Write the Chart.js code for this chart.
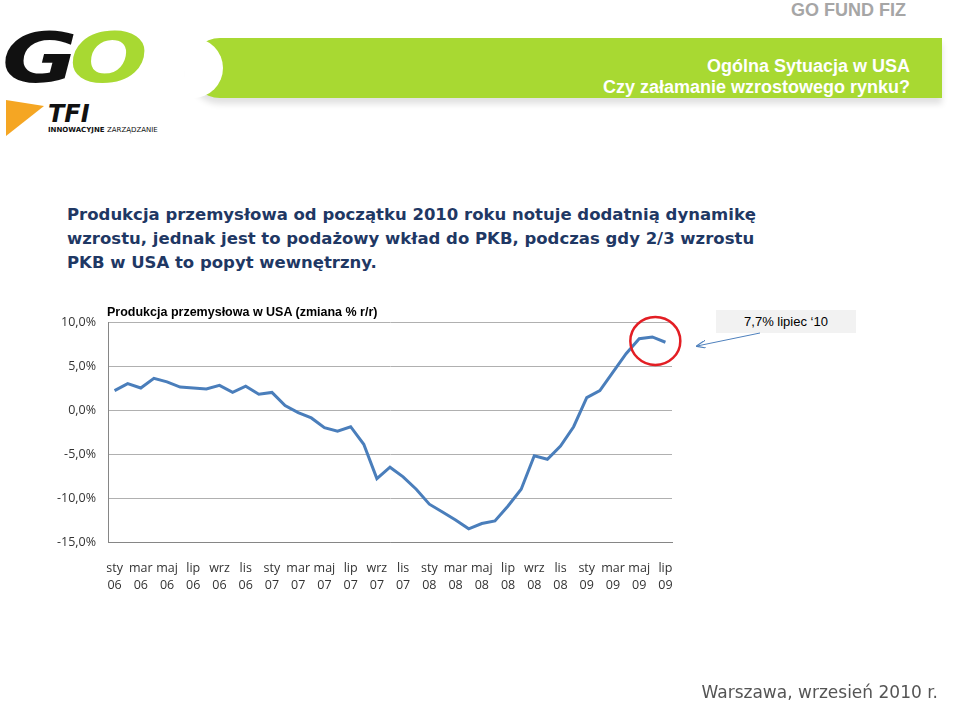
<!DOCTYPE html>
<html><head><meta charset="utf-8">
<script src="https://cdn.jsdelivr.net/npm/chart.js@4/dist/chart.umd.min.js"></script>
<style>
body{margin:0;width:960px;height:701px;background:#fff;position:relative;overflow:hidden;font-family:"Liberation Sans",Arial,sans-serif}
.abs{position:absolute}
#fund{right:54px;top:0;color:#a6a6a6;font-weight:bold;font-size:18px}
#banner{left:190px;top:38px;width:752px;height:60px;background:#a8d932;border-radius:30px 0 0 30px;box-shadow:0 6px 6px rgba(0,0,0,.12)}
#banner2{left:185px;top:38px;width:38px;height:60px;background:#fff;border-radius:0 30px 30px 0}
#btxt{right:50px;top:56px;color:#fff;font-weight:bold;font-size:18px;text-align:right;line-height:21px}
#head{left:67px;top:203px;font-family:"DejaVu Sans",sans-serif;font-weight:bold;font-size:16.5px;color:#1f3864;line-height:24px}
#title{left:107px;top:305px;font-weight:bold;font-size:12.5px;color:#000}
#call{left:716px;top:310px;width:140px;height:23px;background:#f2f2f2;font-size:13px;line-height:23px;text-align:center;color:#000}
#foot{right:22px;top:682px;font-family:"DejaVu Sans",sans-serif;font-size:17px;color:#555}
</style></head><body>
<div id="fund" class="abs">GO FUND FIZ</div>
<div id="banner" class="abs"></div><div id="banner2" class="abs"></div>
<div id="btxt" class="abs">Ogólna Sytuacja w USA<br>Czy załamanie wzrostowego rynku?</div>
<div class="abs" style="left:2px;top:18px;font:italic 900 92px 'DejaVu Sans',sans-serif;letter-spacing:-8px;transform:scaleY(0.75);transform-origin:top left"><span style="color:#111">G</span><span style="color:#a8d932">O</span></div>
<div class="abs" style="left:6px;top:100px;width:0;height:0;border-left:38px solid #f5a623;border-top:6px solid transparent;border-bottom:30px solid transparent"></div>
<div class="abs" style="left:48px;top:100px;font:italic 900 24px 'DejaVu Sans',sans-serif;color:#111">TFI</div>
<div class="abs" style="left:48px;top:126px;font:bold 7px 'DejaVu Sans',sans-serif;color:#111">INNOWACYJNE <span style="font-weight:normal">ZARZĄDZANIE</span></div>
<div id="head" class="abs">Produkcja przemysłowa od początku 2010 roku notuje dodatnią dynamikę<br>wzrostu, jednak jest to podażowy wkład do PKB, podczas gdy 2/3 wzrostu<br>PKB w USA to popyt wewnętrzny.</div>
<div class="abs" style="left:0;top:300px;width:960px;height:300px"><canvas id="c"></canvas></div>
<div id="title" class="abs">Produkcja przemysłowa w USA (zmiana % r/r)</div>
<div id="call" class="abs">7,7% lipiec ‘10</div>
<svg class="abs" style="left:0;top:0" width="960" height="701">
<defs><marker id="ah" markerWidth="10" markerHeight="8" refX="9" refY="4" orient="auto"><path d="M0,0 L10,4 L0,8" fill="none" stroke="#4f81bd" stroke-width="1.2"/></marker></defs>
<line x1="760" y1="333" x2="697" y2="346" stroke="#4f81bd" stroke-width="1" marker-end="url(#ah)"/>
</svg>
<div id="foot" class="abs">Warszawa, wrzesień 2010 r.</div>
<script>
const months = ['sty','lut','mar','kwi','maj','cze','lip','sie','wrz','paź','lis','gru'];
const years = ['06','07','08','09'];
const values = [2.2,3.0,2.5,3.6,3.2,2.6,2.5,2.4,2.8,2.0,2.7,1.8,2.0,0.5,-0.3,-0.9,-2.0,-2.4,-1.9,-3.9,-7.8,-6.5,-7.6,-9.0,
  -10.7,-11.6,-12.5,-13.5,-12.9,-12.6,-10.9,-9.0,-5.2,-5.6,-4.1,-1.9,1.4,2.2,4.3,6.4,8.1,8.3,7.7];
const yTicks = [10,5,0,-5,-10,-15];
const labels = values.map((v,i)=>[months[i%12], years[Math.floor(i/12)]]);

const circle = {id:'circle', afterDraw(ch){
  const m = ch.getDatasetMeta(0).data, ctx = ch.ctx;
  const x = (m[40].x + m[42].x)/2 + 3, y = m[41].y + 4;
  ctx.save(); ctx.strokeStyle='#e31e24'; ctx.lineWidth=2.5;
  ctx.beginPath(); ctx.ellipse(x, y, 25, 24, 0, 0, Math.PI*2); ctx.stroke(); ctx.restore();
}};

new Chart(document.getElementById('c'), {
  type:'line',
  data:{labels, datasets:[{data:values, borderColor:'#4a7ebb', borderWidth:3, pointRadius:0, tension:0}]},
  options:{responsive:true, maintainAspectRatio:false, animation:false,
    layout:{padding:{top:22,right:288,left:0,bottom:0}},
    plugins:{legend:{display:false}, tooltip:{enabled:false}},
    scales:{
      x:{offset:true, grid:{display:false}, border:{color:'#868686'},
        ticks:{autoSkip:false, maxRotation:0, padding:10, color:'#333', font:{family:'Open Sans', size:12.5, lineHeight:1.35},
          callback:(v,i)=> i%2===0 ? labels[i] : ''},
        afterFit:s=>{s.height=58;}},
      y:{min:-15, max:10, grid:{color:'#b0b0b0', drawTicks:false}, border:{color:'#868686'},
        afterBuildTicks:s=>{s.ticks=yTicks.map(v=>({value:v}));},
        ticks:{padding:12, color:'#333', font:{family:'Open Sans', size:12.5},
          callback:v=>v.toFixed(1).replace('.',',')+'%'},
        afterFit:s=>{s.width=108;}}
    }},
  plugins:[circle]
});
</script>
</body></html>
